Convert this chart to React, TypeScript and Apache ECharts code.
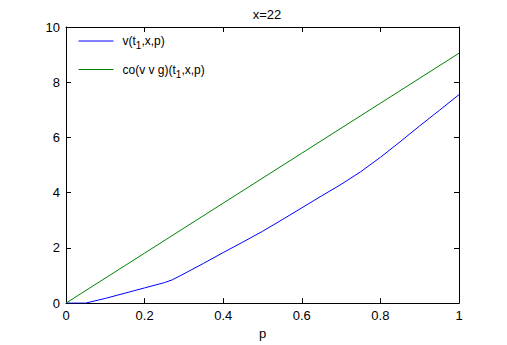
import React, { useEffect, useRef } from "react";
import * as echarts from "echarts";

const titleText = "x=22";
const xLabel = "p";
const seriesNames = ["v(t1,x,p)", "co(v v g)(t1,x,p)"];
const richNames: Record<string, string> = {
  "v(t1,x,p)": "v(t{sub|1},x,p)",
  "co(v v g)(t1,x,p)": "co(v v g)(t{sub|1},x,p)",
};

const pBlue = [0, 0.05, 0.1, 0.15, 0.2, 0.25, 0.27, 0.3, 0.35, 0.4, 0.45, 0.5, 0.55, 0.6, 0.65, 0.7, 0.75, 0.8, 0.85, 0.9, 0.95, 1.0];
const vBlue = [0, 0.0, 0.17, 0.36, 0.55, 0.74, 0.84, 1.06, 1.44, 1.83, 2.21, 2.6, 3.02, 3.45, 3.88, 4.3, 4.76, 5.28, 5.84, 6.42, 6.98, 7.55];

const pGreen = [0, 0.2, 0.4, 0.6, 0.8, 1.0];
const vGreen = [0, 1.81, 3.62, 5.43, 7.24, 9.05];

const xMin = 0, xMax = 1, xStep = 0.2;
const yMin = 0, yMax = 10, yStep = 2;

export default function App() {
  const ref = useRef<HTMLDivElement>(null);
  useEffect(() => {
    if (!ref.current) return;
    const chart = echarts.init(ref.current, undefined, { renderer: "svg" });
    const font = "Liberation Sans, Arial, sans-serif";
    const axisCommon = {
      axisLine: { show: true, onZero: false, lineStyle: { color: "#000", width: 1 } },
      axisTick: { show: true, inside: true, length: 5, lineStyle: { color: "#000" } },
      splitLine: { show: false },
    };
    chart.setOption({
      animation: false,
      backgroundColor: "#fff",
      textStyle: { fontFamily: font },
      grid: { left: 66, right: 48, top: 27, bottom: 38, containLabel: false },
      title: {
        text: titleText,
        left: 262,
        top: 3,
        textAlign: "center",
        textStyle: { fontSize: 13, fontWeight: "normal", color: "#000", fontFamily: font },
      },
      legend: {
        orient: "vertical",
        left: 78,
        top: 35,
        padding: 0,
        itemWidth: 35,
        itemHeight: 14,
        itemGap: 13,
        data: seriesNames,
        itemStyle: { opacity: 0 },
        lineStyle: { width: 1 },
        formatter: (name: string) => richNames[name] || name,
        textStyle: {
          fontSize: 12,
          color: "#000",
          fontFamily: font,
          padding: [0, 0, 0, 4],
          rich: {
            sub: { fontSize: 10, color: "#000", fontFamily: font, padding: [9, 0, 0, 0] },
          },
        },
      },
      xAxis: [
        {
          type: "value",
          min: xMin,
          max: xMax,
          interval: xStep,
          position: "bottom",
          name: xLabel,
          nameLocation: "middle",
          nameGap: 20,
          nameTextStyle: { fontSize: 13, color: "#000", fontFamily: font },
          axisLabel: { color: "#000", fontSize: 13, margin: 6, fontFamily: font },
          ...axisCommon,
        },
        {
          type: "value",
          min: xMin,
          max: xMax,
          interval: xStep,
          position: "top",
          axisLabel: { show: false },
          ...axisCommon,
        },
      ],
      yAxis: [
        {
          type: "value",
          min: yMin,
          max: yMax,
          interval: yStep,
          position: "left",
          axisLabel: { color: "#000", fontSize: 13, margin: 6, fontFamily: font },
          ...axisCommon,
        },
        {
          type: "value",
          min: yMin,
          max: yMax,
          interval: yStep,
          position: "right",
          axisLabel: { show: false },
          ...axisCommon,
        },
      ],
      series: [
        {
          name: seriesNames[0],
          type: "line",
          symbol: "none",
          data: pBlue.map((p, i) => [p, vBlue[i]]),
          lineStyle: { color: "#0000ff", width: 1 },
          itemStyle: { color: "#0000ff" },
        },
        {
          name: seriesNames[1],
          type: "line",
          symbol: "none",
          data: pGreen.map((p, i) => [p, vGreen[i]]),
          lineStyle: { color: "#008000", width: 1 },
          itemStyle: { color: "#008000" },
        },
      ],
    });
    return () => chart.dispose();
  }, []);
  return (
    <div
      ref={ref}
      style={{ position: "fixed", left: 0, top: 0, width: 507, height: 345, background: "#fff" }}
    />
  );
}
